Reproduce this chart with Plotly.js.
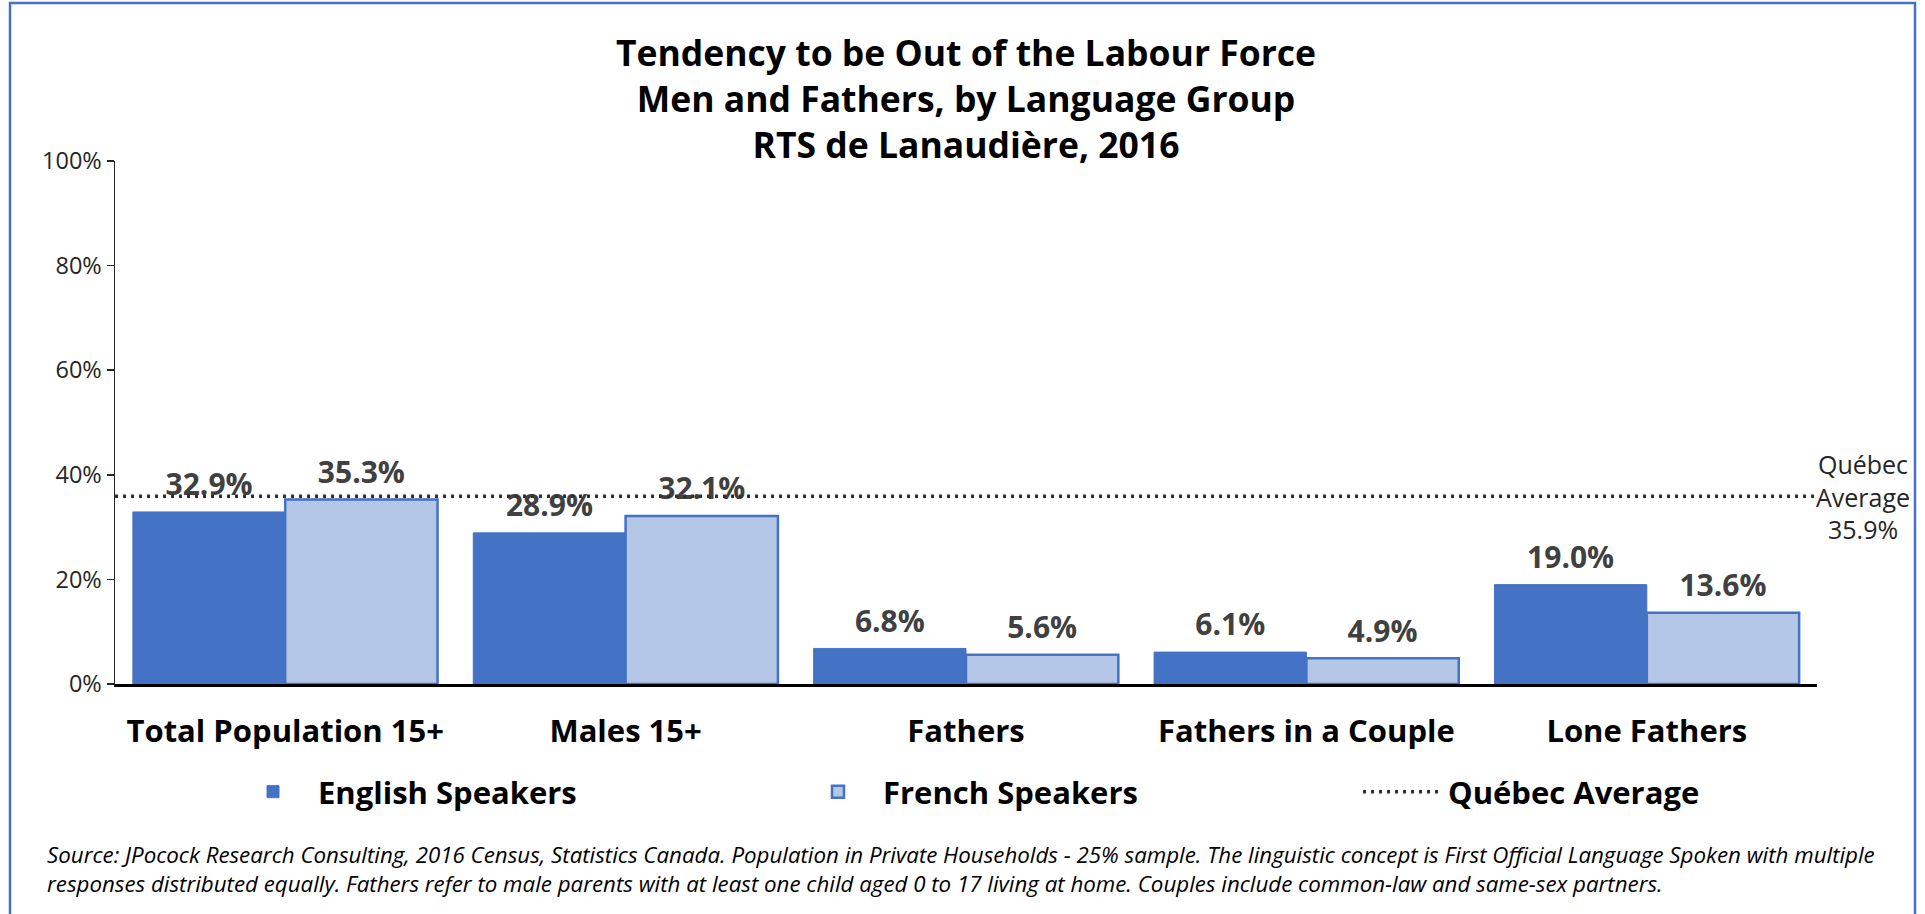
<!DOCTYPE html>
<html>
<head>
<meta charset="utf-8">
<script src="https://cdn.plot.ly/plotly-3.0.1.min.js"></script>
<style>html,body{margin:0;padding:0;background:#fff;}#chart{width:1925px;height:914px;}</style>
</head>
<body>
<div id="chart"></div>
<script>
const categories = ["Total Population 15+", "Males 15+", "Fathers", "Fathers in a Couple", "Lone Fathers"];
const englishSpeakers = [32.9, 28.9, 6.8, 6.1, 19.0];
const frenchSpeakers = [35.3, 32.1, 5.6, 4.9, 13.6];
const quebecAverage = 35.9;
const seriesNames = ["English Speakers", "French Speakers", "Québec Average"];
const yTicks = [0, 20, 40, 60, 80, 100];
const yTickText = ["0%", "20%", "40%", "60%", "80%", "100%"];
const titleLines = ["Tendency to be Out of the Labour Force", "Men and Fathers, by Language Group", "RTS de Lanaudière, 2016"];
const sourceNote = ["Source: JPocock Research Consulting, 2016 Census, Statistics Canada. Population in Private Households - 25% sample. The linguistic concept is First Official Language Spoken with multiple",
  "responses distributed equally. Fathers refer to male parents with at least one child aged 0 to 17 living at home. Couples include common-law and same-sex partners."];

const FONT = "Open Sans, Lato, Liberation Sans, sans-serif";
const W = 1925, H = 914;
const M = {l: 115, r: 108, t: 161, b: 230};
const PW = W - M.l - M.r, PH = H - M.t - M.b;
const px = v => (v - M.l) / PW;
const py = v => (H - M.b - v) / PH;

const labelFont = {family: FONT, size: 30, color: "#404040", weight: 700};

const traces = [
  {
    type: "bar", name: seriesNames[0], x: categories, y: englishSpeakers, offsetgroup: "en",
    marker: {color: "#4472C4", line: {color: "#4472C4", width: 1}},
    hoverinfo: "x+y"
  },
  {
    type: "bar", name: seriesNames[1], x: categories, y: frenchSpeakers, offsetgroup: "fr",
    marker: {color: "#B4C7E7", line: {color: "#4472C4", width: 2.5}},
    hoverinfo: "x+y"
  },
  {
    type: "scatter", mode: "lines", name: seriesNames[2], xaxis: "x2", yaxis: "y",
    x: [0, 1], y: [quebecAverage, quebecAverage],
    line: {color: "#303030", width: 3.5, dash: "3px,5px"}, hoverinfo: "y"
  },
  {
    type: "scatter", mode: "markers+text", x: categories, y: englishSpeakers, offsetgroup: "en",
    marker: {size: 13, opacity: 0, color: "#4472C4"}, showlegend: false,
    texttemplate: "%{y:.1f}%", textposition: "top center", textfont: labelFont,
    cliponaxis: false, hoverinfo: "skip"
  },
  {
    type: "scatter", mode: "markers+text", x: categories, y: frenchSpeakers, offsetgroup: "fr",
    marker: {size: 13, opacity: 0, color: "#B4C7E7"}, showlegend: false,
    texttemplate: "%{y:.1f}%", textposition: "top center", textfont: labelFont,
    cliponaxis: false, hoverinfo: "skip"
  }
];

const layout = {
  width: W, height: H,
  margin: M,
  paper_bgcolor: "#ffffff", plot_bgcolor: "#ffffff",
  font: {family: FONT, color: "#000"},
  title: {
    text: titleLines.map(t => "<b>" + t + "</b>").join("<br>"),
    font: {family: FONT, size: 35.5, color: "#000"},
    x: 0.5, xref: "paper", xanchor: "center", yref: "container", y: 1 - 66 / H, yanchor: "middle"
  },
  barmode: "group", bargap: 0.105, bargroupgap: 0,
  scattermode: "group", scattergap: 0.105,
  xaxis: {
    type: "category", showline: true, linecolor: "#000", linewidth: 2.5,
    ticks: "", showgrid: false, zeroline: false,
    tickfont: {family: FONT, size: 31, color: "#000", weight: 700},
    ticklabelstandoff: 18
  },
  xaxis2: {overlaying: "x", range: [0, 1], visible: false, fixedrange: true},
  yaxis: {
    range: [0, 100], tickmode: "array", tickvals: yTicks, ticktext: yTickText,
    showline: true, linecolor: "#262626", linewidth: 1.5,
    ticks: "outside", ticklen: 7, tickcolor: "#262626", tickwidth: 1.5,
    showgrid: false, zeroline: false,
    tickfont: {family: FONT, size: 23.5, color: "#262626"}
  },
  showlegend: true,
  legend: {
    orientation: "h", xref: "container", yref: "container",
    x: 228 / W, xanchor: "left", y: 1 - 792 / H, yanchor: "middle",
    font: {family: FONT, size: 31, color: "#000", weight: 700},
    entrywidth: 470, entrywidthmode: "pixels", itemwidth: 80,
    bgcolor: "rgba(0,0,0,0)", traceorder: "normal"
  },
  annotations: [
    {
      xref: "paper", yref: "y", x: px(1863), y: quebecAverage, xanchor: "center", yanchor: "middle",
      text: "Québec<br>Average<br>" + quebecAverage.toFixed(1) + "%", showarrow: false, align: "center",
      font: {family: FONT, size: 25, color: "#262626"}
    },
    {
      xref: "paper", yref: "paper", x: px(45), y: py(869), xanchor: "left", yanchor: "middle",
      text: "<i>" + sourceNote.join("<br>") + "</i>", showarrow: false, align: "left",
      font: {family: FONT, size: 22.3, color: "#000"}
    }
  ],
  shapes: [
    {
      type: "rect", xref: "paper", yref: "paper",
      x0: px(10), x1: px(1915), y0: py(930), y1: py(3),
      line: {color: "#4472C4", width: 2.5}, fillcolor: "rgba(0,0,0,0)", layer: "below"
    }
  ]
};

Plotly.newPlot("chart", traces, layout, {displayModeBar: false, staticPlot: true});
</script>
</body>
</html>
